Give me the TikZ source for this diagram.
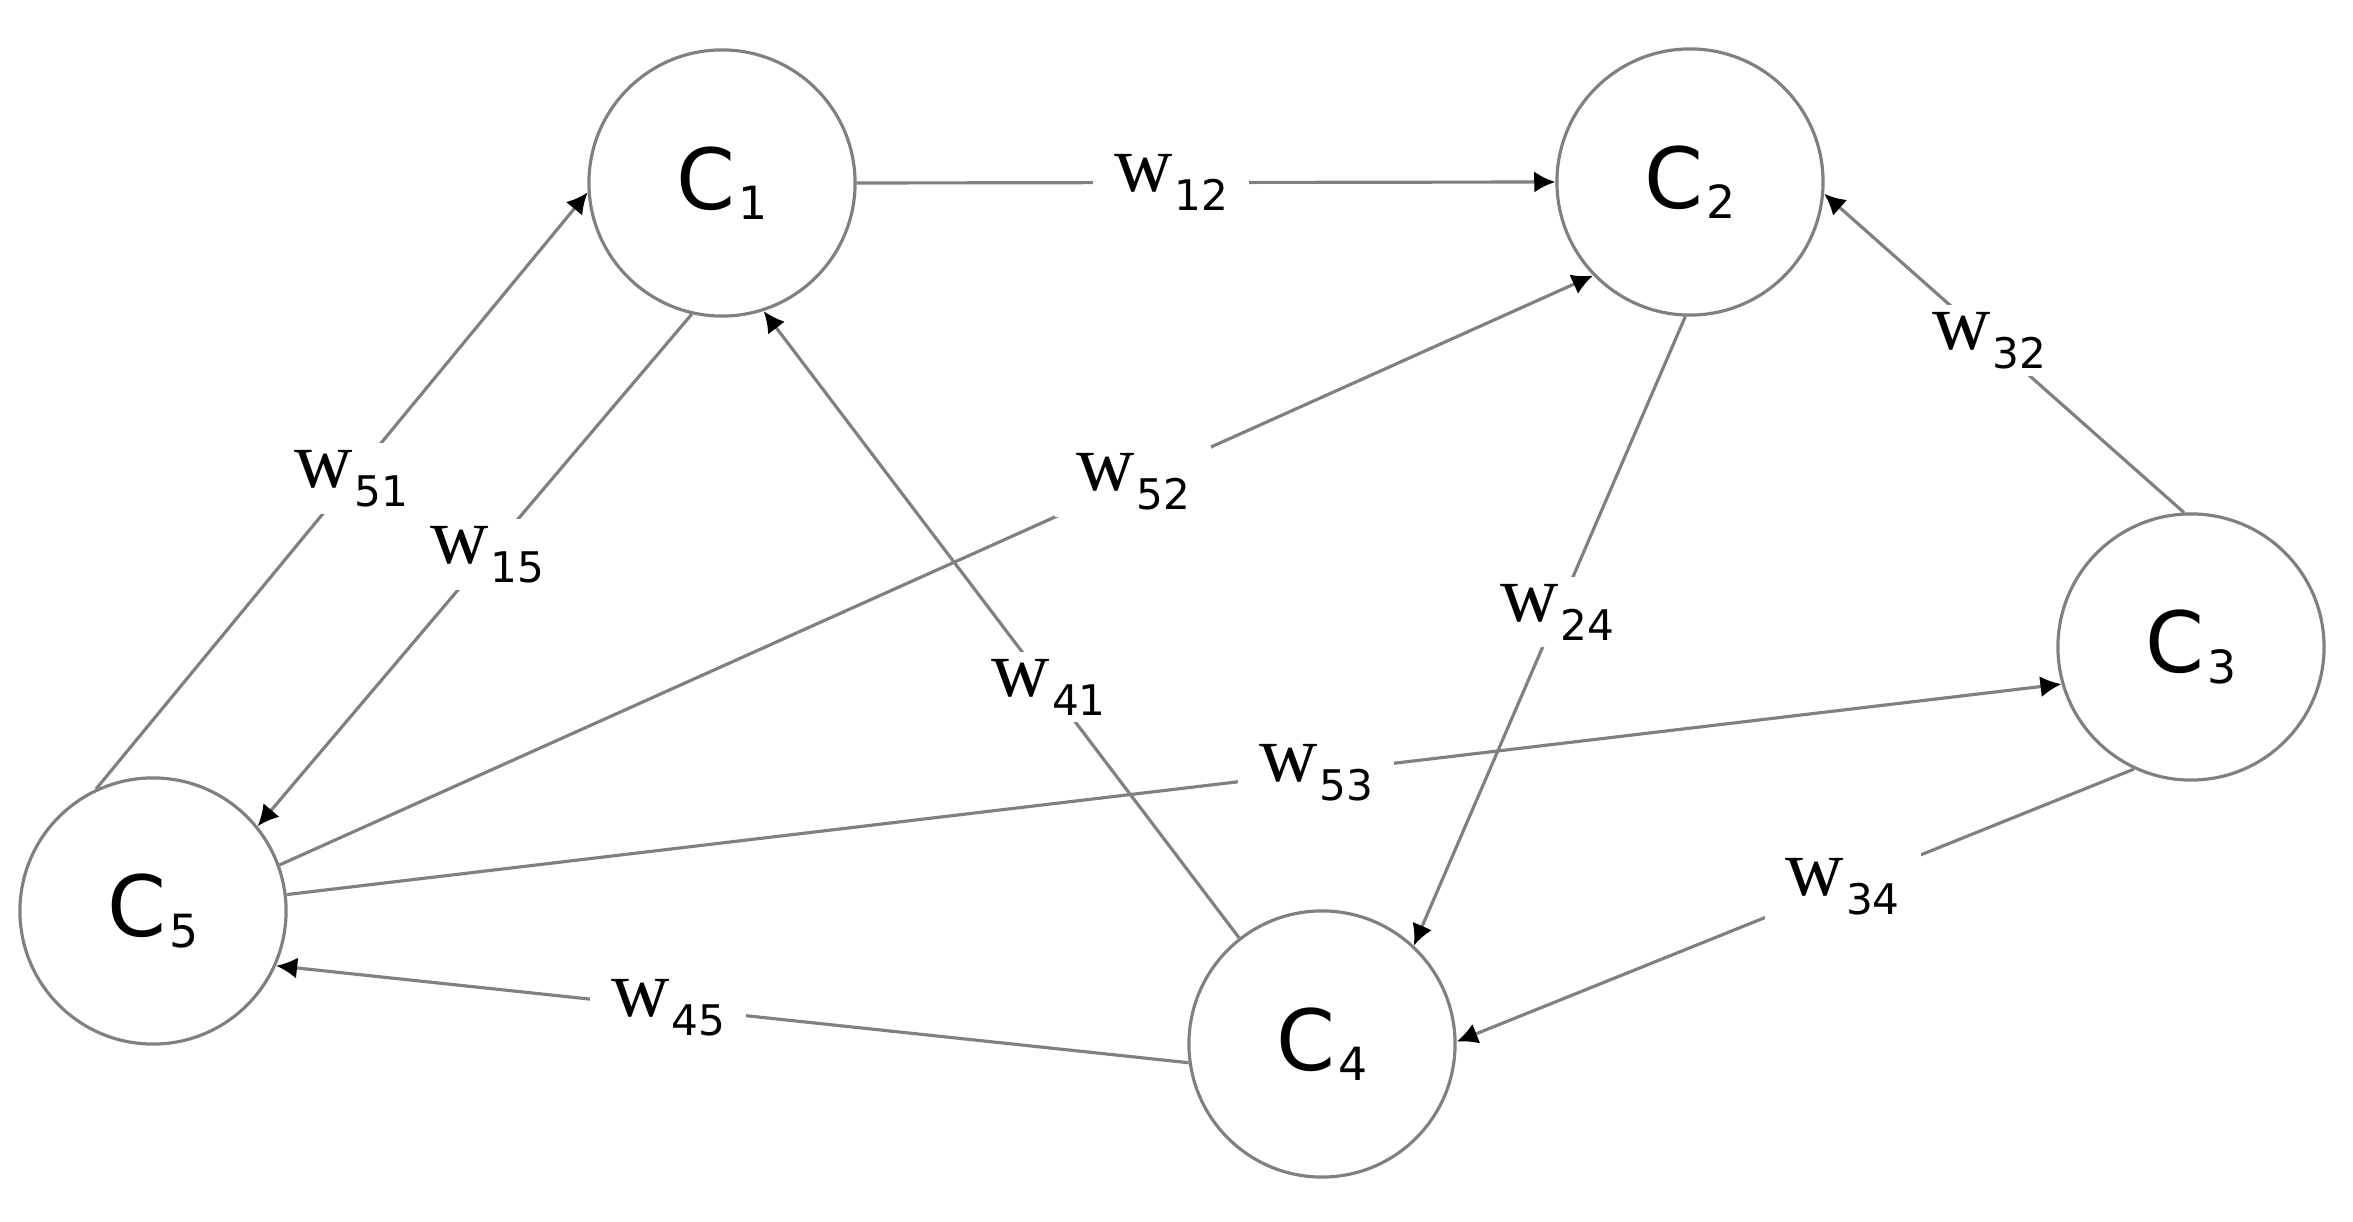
\documentclass[tikz,border=0pt]{standalone}
\usepackage{fontspec}
\setmainfont{DejaVu Sans}
\newfontfamily\serifw{Liberation Serif}
\usetikzlibrary{arrows.meta}
\newcommand{\cname}[1]{{\fontsize{24}{24}\selectfont C}\kern1pt\raisebox{-3pt}{\fontsize{13}{13}\selectfont #1}}
\newcommand{\wname}[1]{{\serifw\fontsize{23}{23}\selectfont w}\kern0.5pt\raisebox{-5.4pt}{\fontsize{12}{12}\selectfont #1}}
\tikzset{every picture/.style={line width=0.9pt},
  cnode/.style={circle, draw=gray, minimum size=2.66cm, inner sep=0pt},
  wlabel/.style={fill=white, inner xsep=6pt, inner ysep=2pt},
  wire/.style={draw=gray, -{Latex[length=6pt,width=6pt,black]}}}

\begin{document}
\begin{tikzpicture}[x=0.01cm,y=-0.01cm]
\useasboundingbox (0,0) rectangle (2353,1222);

\node (c1) [cnode] at (722,183) {\cname{1}};
\node (c2) [cnode] at (1690,182) {\cname{2}};
\node (c3) [cnode] at (2191,647) {\cname{3}};
\node (c4) [cnode] at (1322,1044) {\cname{4}};
\node (c5) [cnode] at (153,911) {\cname{5}};

\draw[wire] (c1.east) to node[wlabel, pos=0.45] {\wname{12}} (c2.west);
\draw[wire] (c5.115) to node[wlabel, pos=0.52] {\wname{51}} (c1.184);
\draw[wire] (c1.257) to node[wlabel, pos=0.47] {\wname{15}} (c5.39);
\draw[wire] (c5.20) to node[wlabel, pos=0.65] {\wname{52}} (c2.224);
\draw[wire] (c4.128) to node[wlabel, pos=0.4] {\wname{41}} (c1.288);
\draw[wire] (c5.7) to node[wlabel, pos=0.58] {\wname{53}} (c3.196);
\draw[wire] (c2.268) to node[wlabel, pos=0.47] {\wname{24}} (c4.47);
\draw[wire] (c3.93) to node[wlabel, pos=0.54] {\wname{32}} (c2.355);
\draw[wire] (c3.245) to node[wlabel, pos=0.43] {\wname{34}} (c4.1);
\draw[wire] (c4.188) to node[wlabel, pos=0.57] {\wname{45}} (c5.336);
\end{tikzpicture}
\end{document}
